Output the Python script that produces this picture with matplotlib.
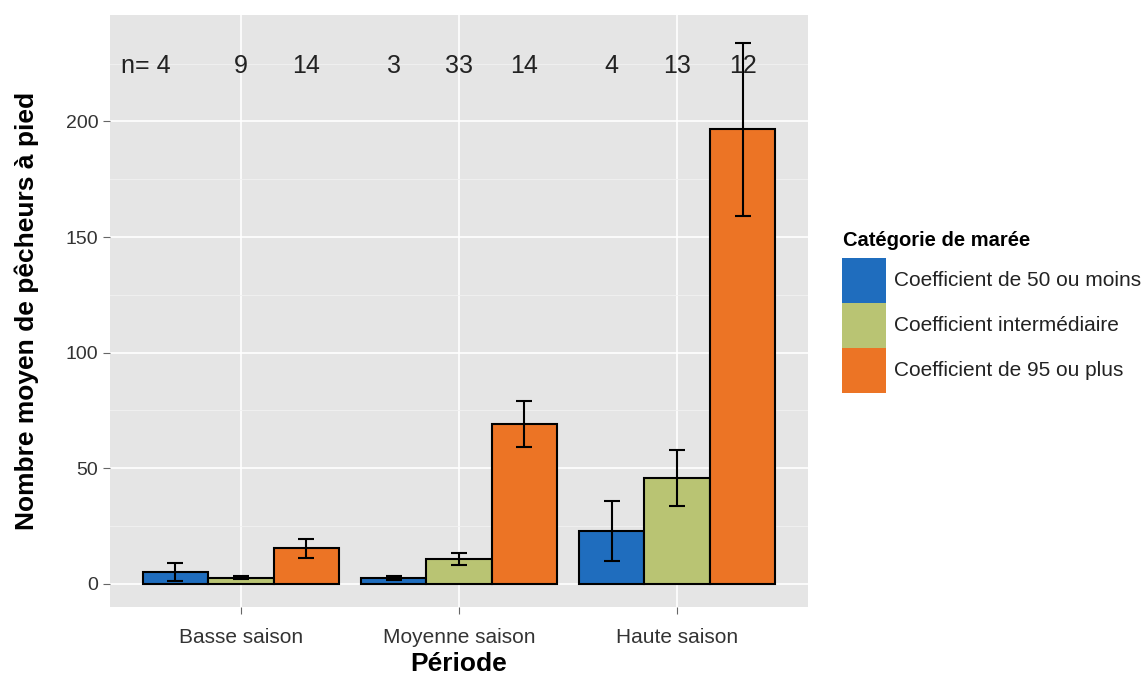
import matplotlib
matplotlib.use('Agg')
import matplotlib.pyplot as plt
from matplotlib.patches import Rectangle
import numpy as np

plt.rcParams['font.family'] = ['Liberation Sans', 'DejaVu Sans']

# data
periodes = ['Basse saison', 'Moyenne saison', 'Haute saison']
categories = ['Coefficient de 50 ou moins', 'Coefficient intermédiaire', 'Coefficient de 95 ou plus']
colors = ['#1F6DBE', '#B9C473', '#EC7425']

moy_50 = [5.2, 2.5, 23.0]
moy_inter = [2.7, 10.7, 45.8]
moy_95 = [15.3, 69.0, 196.5]
err_50 = [4.0, 1.0, 13.0]
err_inter = [0.5, 2.7, 12.3]
err_95 = [4.0, 10.0, 37.5]
n_obs = [4, 9, 14, 3, 33, 14, 4, 13, 12]

means = [moy_50, moy_inter, moy_95]
errs = [err_50, err_inter, err_95]

fig = plt.figure(figsize=(11.48, 6.75), dpi=100)
ax = fig.add_axes([110 / 1148, 68 / 675, 698 / 1148, 592 / 675])
ax.set_facecolor('#E5E5E5')

x = np.arange(1, len(periodes) + 1)
width = 0.3
offsets = [-width, 0, width]

# grid
ax.set_ylim(-10, 246)
ax.set_xlim(0.4, 3.6)
ax.set_yticks([0, 50, 100, 150, 200])
ax.set_yticks([25, 75, 125, 175, 225], minor=True)
ax.grid(True, which='major', color='white', linewidth=1.2)
ax.grid(True, which='minor', axis='y', color='#F2F2F2', linewidth=0.6)
ax.set_axisbelow(True)

bar_centers = []
for k in range(3):
    xs = x + offsets[k]
    ax.bar(xs, means[k], width=width, color=colors[k], edgecolor='black', linewidth=1.5, zorder=2)
    ax.errorbar(xs, means[k], yerr=errs[k], fmt='none', ecolor='black', elinewidth=1.5,
                capsize=6, capthick=1.5, zorder=3)
    bar_centers.append(xs)

# n labels, ordered period by period
order = []
for i in range(len(periodes)):
    for k in range(3):
        order.append(bar_centers[k][i])
for j, (xc, n) in enumerate(zip(order, n_obs)):
    if j == 0:
        ax.text(xc - 0.02, 224, f'n= {n}', ha='right', va='center', fontsize=18, color='#222222', zorder=4)
    else:
        ax.text(xc, 224, f'{n}', ha='center', va='center', fontsize=18, color='#222222', zorder=4)

ax.set_xticks(x)
ax.set_xticklabels(periodes, fontsize=15, color='#333333')
ax.tick_params(axis='y', labelsize=14, labelcolor='#333333', colors='#666666', length=5)
ax.tick_params(axis='x', colors='#666666', labelcolor='#333333', length=5, pad=10)
ax.tick_params(which='minor', length=0)
for s in ax.spines.values():
    s.set_visible(False)

ax.set_xlabel('Période', fontsize=19, fontweight='bold', labelpad=4)
ax.set_ylabel('Nombre moyen de pêcheurs à pied', fontsize=19, fontweight='bold', labelpad=19)

# legend drawn by hand, ggplot-style
fig.text(843 / 1148, 1 - 240 / 675, 'Catégorie de marée', fontsize=14.5, fontweight='bold',
         ha='left', va='center')
key_w, key_h = 44, 45
top = 258
for k, (lab, col) in enumerate(zip(categories, colors)):
    y0 = top + k * key_h
    fig.patches.append(Rectangle((842 / 1148, 1 - (y0 + key_h) / 675), key_w / 1148, key_h / 675,
                                 transform=fig.transFigure, facecolor=col, edgecolor='none'))
    fig.text(894 / 1148, 1 - (y0 + key_h / 2) / 675, lab, fontsize=15, ha='left', va='center',
             color='#222222')

plt.savefig('out.png', dpi=100)
